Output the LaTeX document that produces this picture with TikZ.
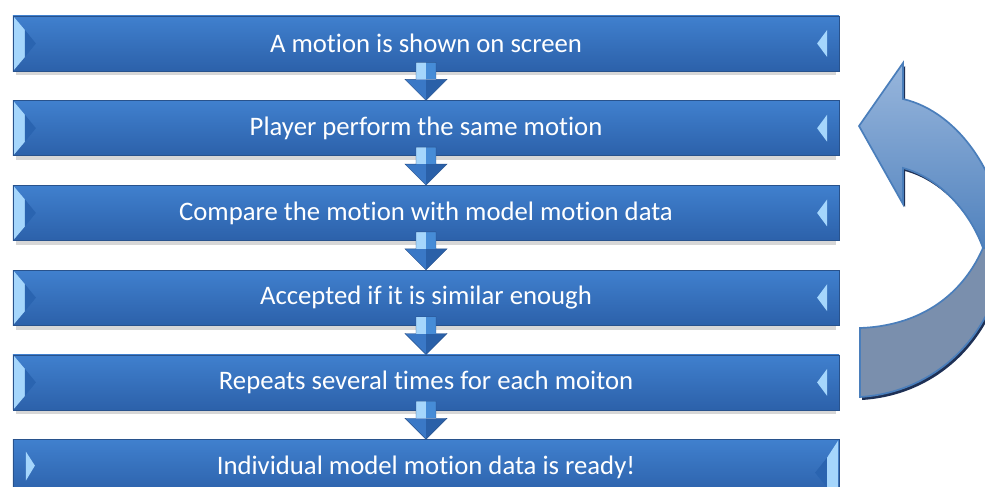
\documentclass[tikz,border=0pt]{standalone}
\usepackage{fontspec}
\setmainfont{Carlito}[Ligatures=NoCommon]
\usepackage{tikz}
\usetikzlibrary{positioning,calc,backgrounds}

\definecolor{boxtop}{RGB}{64,128,206}
\definecolor{boxmid}{RGB}{60,124,202}
\definecolor{boxbot}{RGB}{44,97,170}
\definecolor{boxline}{RGB}{40,82,140}
\definecolor{bevellight}{RGB}{165,214,252}
\definecolor{beveldark}{RGB}{42,100,176}
\definecolor{headleft}{RGB}{58,120,198}
\definecolor{headright}{RGB}{42,96,168}
\definecolor{shaftright}{RGB}{70,140,215}
\definecolor{looplight}{RGB}{152,182,220}
\definecolor{loopblue}{RGB}{79,129,189}
\definecolor{loopback}{RGB}{122,143,173}
\definecolor{loopline}{RGB}{74,126,187}
\definecolor{loopshadow}{RGB}{30,48,85}

% small down arrow between two steps
\newcommand{\stepdown}[2]{%
  \fill[headleft] ($(#1.south)+(-21,8)$) -- ($(#1.south)+(0,8)$) -- (#2.north) -- cycle;
  \fill[headright] ($(#1.south)+(0,8)$) -- ($(#1.south)+(21,8)$) -- (#2.north) -- cycle;
  \fill[bevellight] ($(#1.south)+(-10,-9)$) rectangle ($(#1.south)+(0,8)$);
  \fill[shaftright] ($(#1.south)+(0,-9)$) rectangle ($(#1.south)+(10,8)$);
  \draw[boxline, line width=0.3pt] ($(#1.south)+(-10,-9)$) -- ($(#1.south)+(-10,8)$) -- ($(#1.south)+(-21,8)$) -- (#2.north) -- ($(#1.south)+(21,8)$) -- ($(#1.south)+(10,8)$) -- ($(#1.south)+(10,-9)$) -- cycle;
}

\begin{document}
\begin{tikzpicture}[
    x=0.025cm, y=-0.025cm,
    node distance=0.725cm,
    stepbox/.style={rectangle, draw=boxline, line width=0.5pt, top color=boxtop, middle color=boxmid, bottom color=boxbot, minimum width=20.65cm, minimum height=1.375cm, inner sep=0pt, text=white, font=\fontsize{19}{22}\selectfont},
    bevels/.style={path picture={
        \fill[bevellight] ($(path picture bounding box.north west)+(1,1)$) -- ++(11,13) -- ++(0,27) -- ($(path picture bounding box.south west)+(1,-1)$) -- cycle;
        \fill[beveldark] ($(path picture bounding box.north west)+(12,14)$) -- ++(11,13.5) -- ++(-11,13.5) -- cycle;
        \fill[bevellight] ($(path picture bounding box.north east)+(-12,14)$) -- ++(-10,13.5) -- ++(10,13.5) -- cycle;
    }},
    lastbevels/.style={path picture={
        \fill[bevellight] ($(path picture bounding box.north west)+(13,12)$) -- ++(9,14) -- ++(-9,15) -- cycle;
        \fill[beveldark] ($(path picture bounding box.north east)+(-12,18)$) -- ++(-12,15) -- ++(12,15) -- cycle;
        \fill[bevellight] ($(path picture bounding box.north east)+(-1,1)$) -- ++(-11,17) -- ++(0,40) -- ++(11,0) -- cycle;
    }},
    boxshadow/.style={fill=black!35, opacity=0.45},
    loopedge/.style={draw=loopline, line width=1.2pt},
]
\useasboundingbox (0,0) rectangle (985,486);

% --- Steps ---
\node[stepbox, bevels] (shown) at (426,43.5) {A motion is shown on screen};
\node[stepbox, bevels, below=of shown] (perform) {Player perform the same motion};
\node[stepbox, bevels, below=of perform] (compare) {Compare the motion with model motion data};
\node[stepbox, bevels, below=of compare] (accept) {Accepted if it is similar enough};
\node[stepbox, bevels, below=of accept] (repeat) {Repeats several times for each moiton};
\node[stepbox, lastbevels, below=of repeat] (ready) {Individual model motion data is ready!};

% shadows under the boxes
\begin{scope}[on background layer]
  \foreach \n in {shown,perform,compare,accept,repeat}
    \fill[boxshadow] ($(\n.south west)+(3,0)$) rectangle ($(\n.south east)+(-3,4)$);
\end{scope}

% --- Arrows between steps ---
\foreach \a/\b in {shown/perform, perform/compare, compare/accept, accept/repeat, repeat/ready}
  \stepdown{\a}{\b};

% --- Loop arrow ---
\begin{scope}
  \clip (0,0) rectangle (985,486);
  \begin{scope}[shift={(2,3)}]
    \fill[loopshadow] (983,248) .. controls (960,300) and (915,326) .. (860,328) -- (860,397) .. controls (940,392) and (998,330) .. (1005,250) -- cycle;
    \fill[loopshadow] (903,99) .. controls (960,112) and (1005,180) .. (1005,250) -- (983,248) .. controls (970,212) and (940,178) .. (903,168) -- (903,204) -- (859,126) -- (903,63) -- cycle;
  \end{scope}
  \path[loopedge, fill=loopback] (983,248) .. controls (960,300) and (915,326) .. (860,328) -- (860,397) .. controls (940,392) and (998,330) .. (1005,250) -- cycle;
  \path[loopedge, top color=looplight, bottom color=loopblue] (903,99) .. controls (960,112) and (1005,180) .. (1005,250) -- (983,248) .. controls (970,212) and (940,178) .. (903,168) -- (903,204) -- (859,126) -- (903,63) -- cycle;
\end{scope}

\end{tikzpicture}
\end{document}
